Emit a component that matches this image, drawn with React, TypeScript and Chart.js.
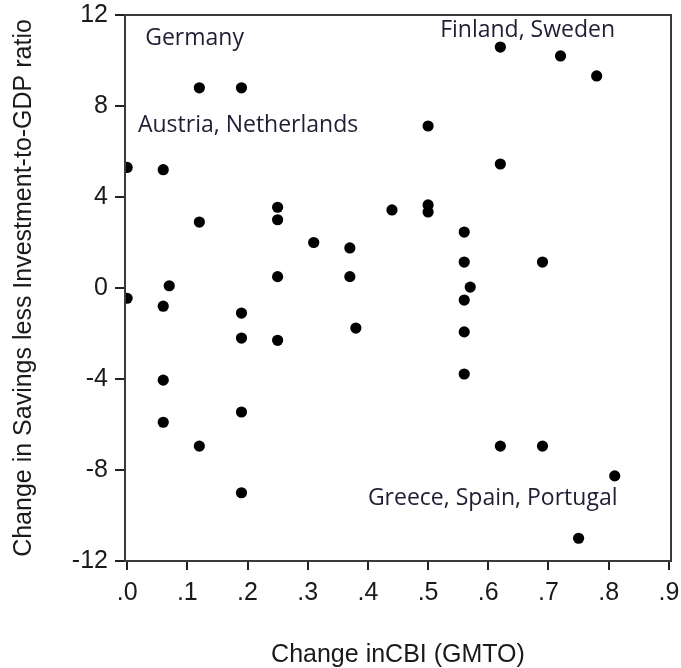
import React, { useEffect, useRef } from "react";
import { Chart, registerables } from "chart.js";

Chart.register(...registerables);

// CBI change (x) and change in savings less investment (y)
const cbiChange = [
  0.0, 0.0, 0.06, 0.06, 0.07, 0.06, 0.06,
  0.12, 0.12, 0.12,
  0.19, 0.19, 0.19, 0.19, 0.19,
  0.25, 0.25, 0.25, 0.25,
  0.31, 0.37, 0.37, 0.38, 0.44,
  0.5, 0.5, 0.5,
  0.56, 0.56, 0.57, 0.56, 0.56, 0.56,
  0.62, 0.62, 0.62, 0.72, 0.78, 0.69, 0.69, 0.81, 0.75,
];
const savingsGap = [
  5.3, -0.45, 5.2, -0.8, 0.1, -4.05, -5.9,
  8.8, 2.9, -6.95,
  8.8, -1.1, -2.2, -5.45, -9.0,
  3.55, 3.0, 0.5, -2.3,
  2.0, 1.76, 0.5, -1.76, 3.43,
  7.12, 3.65, 3.34,
  2.46, 1.14, 0.04, -0.53, -1.93, -3.78,
  10.59, 5.45, -6.95, 10.2, 9.32, 1.14, -6.95, -8.26, -11.0,
];

const xTickValues = [0, 0.1, 0.2, 0.3, 0.4, 0.5, 0.6, 0.7, 0.8, 0.9];
const xTickLabels = [".0", ".1", ".2", ".3", ".4", ".5", ".6", ".7", ".8", ".9"];
const yTickValues = [-12, -8, -4, 0, 4, 8, 12];
const yTickLabels = ["-12", "-8", "-4", "0", "4", "8", "12"];

// country group annotations (text, x anchor, y baseline anchor)
const noteTexts = ["Germany", "Austria, Netherlands", "Finland, Sweden", "Greece, Spain, Portugal"];
const noteX = [0.03, 0.018, 0.52, 0.40];
const noteY = [10.68, 6.86, 11.03, -9.54];

const xTitle = "Change inCBI (GMTO)";
const yTitle = "Change in Savings less Investment-to-GDP ratio";

const frameAndNotes = {
  id: "frameAndNotes",
  afterDatasetsDraw(chart: any) {
    const { ctx, chartArea, scales } = chart;
    ctx.save();
    ctx.strokeStyle = "#3a3a3a";
    ctx.lineWidth = 2;
    ctx.strokeRect(chartArea.left, chartArea.top, chartArea.right - chartArea.left, chartArea.bottom - chartArea.top);
    ctx.fillStyle = "#1e1e34";
    ctx.font = "23px 'Open Sans'";
    ctx.textAlign = "left";
    ctx.textBaseline = "alphabetic";
    noteTexts.forEach((t, i) => {
      ctx.fillText(t, scales.x.getPixelForValue(noteX[i]), scales.y.getPixelForValue(noteY[i]));
    });
    ctx.restore();
  },
};

const axisFont = { family: "'Liberation Sans', Arial", size: 25 };

export default function App() {
  const canvasRef = useRef<HTMLCanvasElement>(null);

  useEffect(() => {
    const canvas = canvasRef.current;
    if (!canvas) return;
    const chart = new Chart(canvas, {
      type: "scatter",
      data: {
        datasets: [
          {
            data: cbiChange.map((x, i) => ({ x, y: savingsGap[i] })),
            backgroundColor: "#000000",
            borderWidth: 0,
            pointRadius: 5.6,
            clip: 0,
          },
        ],
      },
      options: {
        animation: false,
        responsive: false,
        devicePixelRatio: 1,
        layout: { padding: { top: 15, right: 10, bottom: 0, left: 0 } },
        plugins: {
          legend: { display: false },
          tooltip: { enabled: false },
        },
        scales: {
          x: {
            type: "linear",
            min: -0.0035,
            max: 0.9035,
            afterBuildTicks: (scale: any) => {
              scale.ticks = xTickValues.map((v) => ({ value: v }));
            },
            afterFit: (scale: any) => {
              scale.height = 107;
              scale.paddingLeft = 0;
              scale.paddingRight = 0;
            },
            ticks: {
              callback: (v: any) => xTickLabels[xTickValues.findIndex((t) => Math.abs(t - v) < 1e-6)] ?? "",
              font: axisFont,
              color: "#1a1a1a",
              padding: 8,
              maxRotation: 0,
              autoSkip: false,
            },
            grid: {
              drawOnChartArea: false,
              drawTicks: true,
              tickLength: 9,
              color: "#222222",
              lineWidth: 2,
            },
            border: { display: true, color: "#222222", width: 2 },
            title: {
              display: true,
              text: xTitle,
              font: { ...axisFont, lineHeight: 1.0 },
              color: "#1a1a1a",
              padding: { top: 0, bottom: 0 },
            },
          },
          y: {
            type: "linear",
            min: -12,
            max: 12,
            afterBuildTicks: (scale: any) => {
              scale.ticks = yTickValues.map((v) => ({ value: v }));
            },
            afterFit: (scale: any) => {
              scale.width = 125;
              scale.paddingTop = 0;
              scale.paddingBottom = 0;
            },
            ticks: {
              callback: (v: any) => yTickLabels[yTickValues.indexOf(v)] ?? "",
              font: axisFont,
              color: "#1a1a1a",
              padding: 7,
              autoSkip: false,
            },
            grid: {
              drawOnChartArea: false,
              drawTicks: true,
              tickLength: 10,
              color: "#222222",
              lineWidth: 2,
            },
            border: { display: true, color: "#222222", width: 2 },
            title: {
              display: true,
              text: yTitle,
              font: axisFont,
              color: "#1a1a1a",
              padding: { top: 9, bottom: 0 },
            },
          },
        },
      },
      plugins: [frameAndNotes],
    });
    return () => chart.destroy();
  }, []);

  return (
    <div style={{ position: "absolute", left: 0, top: 0, width: 681, height: 668, background: "#ffffff" }}>
      <canvas ref={canvasRef} width={681} height={668} />
    </div>
  );
}
